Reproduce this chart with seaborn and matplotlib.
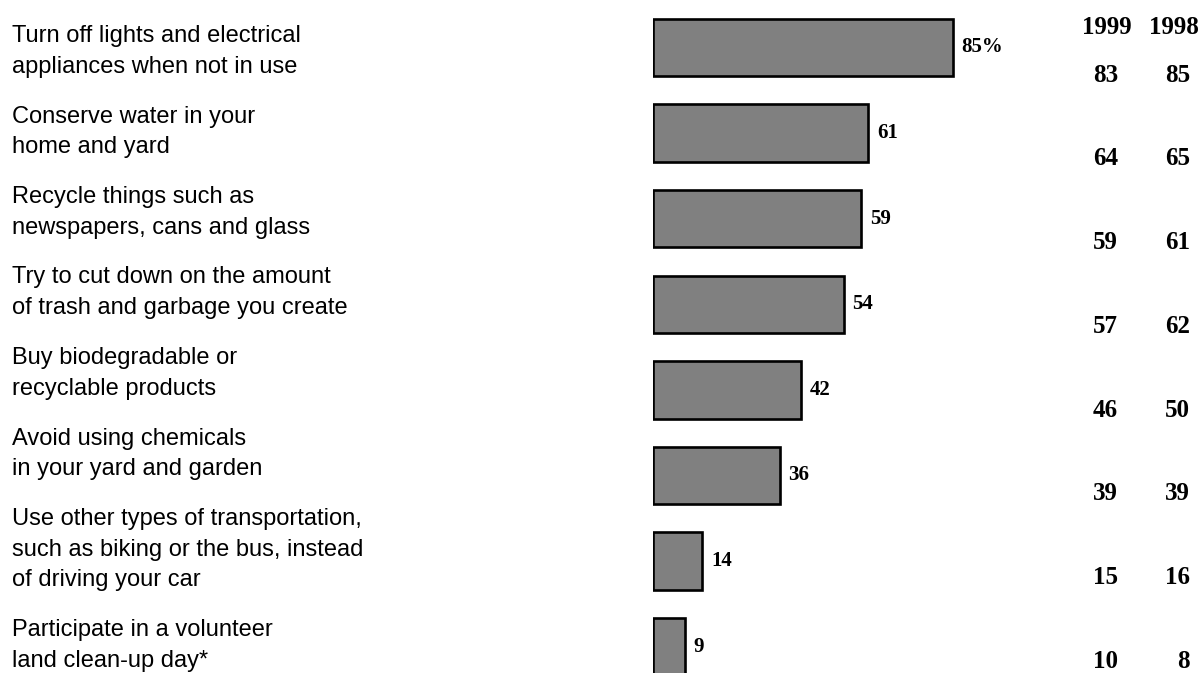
import matplotlib
matplotlib.use("Agg")
import matplotlib.pyplot as plt
import pandas as pd
import seaborn as sns

# Share of respondents who say they do each of these to help the environment
actions = [
    "Turn off lights and electrical\nappliances when not in use",
    "Conserve water in your\nhome and yard",
    "Recycle things such as\nnewspapers, cans and glass",
    "Try to cut down on the amount\nof trash and garbage you create",
    "Buy biodegradable or\nrecyclable products",
    "Avoid using chemicals\nin your yard and garden",
    "Use other types of transportation,\nsuch as biking or the bus, instead\nof driving your car",
    "Participate in a volunteer\nland clean-up day*",
]
current = [85, 61, 59, 54, 42, 36, 14, 9]
prior_years = ["1999", "1998"]
values_1999 = [83, 64, 59, 57, 46, 39, 15, 10]
values_1998 = [85, 65, 61, 62, 50, 39, 16, 8]

df = pd.DataFrame({"action": actions, "pct": current})

sns.set_theme(style="white")
plt.rcParams["font.family"] = ["Liberation Sans", "DejaVu Sans"]

W, H, DPI = 1202, 673, 100
fig = plt.figure(figsize=(W / DPI, H / DPI), dpi=DPI)
fig.patch.set_facecolor("white")

# Bar panel: left edge at x=653 px, 3.53 px per percentage point
bar_left = 653
px_per_pt = 3.53
xmax = 100
ax = fig.add_axes([bar_left / W, 0, xmax * px_per_pt / W, 1])
row_px0, row_step = 47.5, 85.6

sns.barplot(data=df, x="pct", y="action", orient="h", color="#808080",
            saturation=1, width=0.67, edgecolor="black", linewidth=1.9, ax=ax)
ax.set_ylim((H - row_px0) / row_step, -row_px0 / row_step)
ax.set_xlim(0, xmax)
ax.axis("off")

serif_bold = dict(family=["Liberation Serif", "DejaVu Serif"], weight="bold")

for i, v in enumerate(current):
    label = f"{v}%" if i == 0 else f"{v}"
    ax.text(v + 2.4, i, label, ha="left", va="center", fontsize=15,
            color="black", **serif_bold)

# Category labels on the left: a stacked column of text blocks with a
# fixed line pitch inside each block and a fixed gap between blocks
lax = fig.add_axes([0, 0, 1, 1])
lax.patch.set_alpha(0)
lax.axis("off")
lax.set_xlim(0, W)
lax.set_ylim(H, 0)
line_pitch, block_gap = 30.6, 49.9
baseline = 42.0
for name in actions:
    lines = name.split("\n")
    for k, line in enumerate(lines):
        lax.text(12, baseline, line, ha="left", va="baseline",
                 fontsize=17, color="black")
        if k < len(lines) - 1:
            baseline += line_pitch
    baseline += block_gap

# Prior-year comparison table on the right
tax = fig.add_axes([0, 0, 1, 1])
tax.patch.set_alpha(0)
tax.axis("off")
tbl_px0, tbl_step = 75, 83.8
tax.set_xlim(0, W)
tax.set_ylim((H - tbl_px0) / tbl_step, -tbl_px0 / tbl_step)

header_y = (27 - tbl_px0) / tbl_step
tax.text(1107, header_y, prior_years[0], ha="center", va="center",
         fontsize=18, color="black", **serif_bold)
tax.text(1174, header_y, prior_years[1], ha="center", va="center",
         fontsize=18, color="black", **serif_bold)
for i, (a, b) in enumerate(zip(values_1999, values_1998)):
    tax.text(1118, i, f"{a}", ha="right", va="center", fontsize=18,
             color="black", **serif_bold)
    tax.text(1190, i, f"{b}", ha="right", va="center", fontsize=18,
             color="black", **serif_bold)

fig.savefig("out.png", dpi=DPI, facecolor="white")
